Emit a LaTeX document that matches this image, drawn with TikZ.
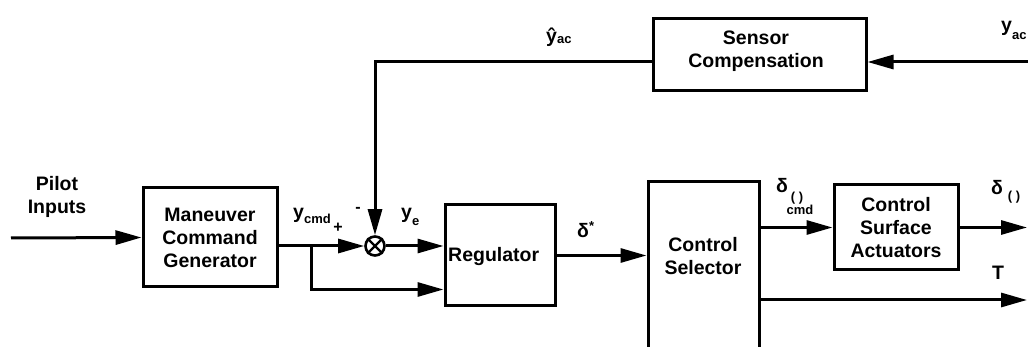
\documentclass[tikz,border=0pt]{standalone}
\usepackage{fontspec}
\setmainfont{Liberation Sans}
\usetikzlibrary{arrows.meta,calc}
\newcommand{\lbsub}[2][-5pt]{\raisebox{#1}{\fontsize{13}{13}\selectfont\bfseries #2}}
\begin{document}
\begin{tikzpicture}[x=1pt,y=-1pt,
  blk/.style={draw, line width=3pt, inner sep=0pt, align=center, font=\fontsize{19.5}{23}\selectfont\bfseries},
  wire/.style={line width=3pt},
  arr/.style={wire, -{Triangle[length=26pt,width=14pt]}},
  lbl/.style={inner sep=0pt, font=\fontsize{19.5}{23}\selectfont\bfseries},
  small/.style={inner sep=0pt, font=\fontsize{13}{13}\selectfont\bfseries}]
\useasboundingbox (0,0) rectangle (1028,347);
\clip (0,0) rectangle (1028,347);
% blocks
\node[blk, minimum width=134pt, minimum height=99pt] (mcg) at (210,237.5) {Maneuver\\Command\\Generator};
\node[blk, minimum width=110pt, minimum height=101pt] (reg) at (500,255.5) {};
\node[lbl, anchor=west] (regt) at (448,257) {Regulator};
\node[blk, minimum width=111pt, minimum height=180pt, anchor=north] (cs) at (703.5,180) {};
\node[lbl, align=center] (cst) at (703,256) {Control\\Selector};
\node[blk, minimum width=124pt, minimum height=85pt] (csa) at (896,227.5) {Control\\Surface\\Actuators};
\node[blk, minimum width=213pt, minimum height=72pt] (sens) at (759.5,55) {};
\node[lbl, align=center] (senst) at (756,51) {Sensor\\Compensation};
% summing junction
\node[circle, draw, line width=2.6pt, minimum size=19pt, inner sep=0pt] (sum) at (375,246) {};
\draw[line width=2.4pt] (sum.45) -- (sum.225) (sum.135) -- (sum.315);
% connectors
\coordinate (pin) at (11,238);
\draw[arr] (pin) -- (mcg.west);
\draw[arr] (mcg.east |- sum) -- (sum.west);
\coordinate (br) at ($(mcg.east |- sum)+(33,0)$);
\coordinate (r2) at ($(reg.south west)+(0,-18)$);
\draw[arr] (br) |- (r2);
\draw[arr] (sum.east) -- (sum.east -| reg.west);
\draw[arr] (reg.east) -- (reg.east -| cs.west);
\draw[arr] (cs.east |- csa.west) -- (csa.west);
\coordinate (dout) at (1027,227.5);
\draw[arr] (csa.east) -- (dout);
\coordinate (tout) at (1027,300);
\draw[arr] (cs.east |- tout) -- (tout);
\coordinate (yin) at (1030,62);
\draw[arr] (yin) -- (sens.east |- yin);
\draw[arr] (sens.west |- yin) -| (sum.north);
% labels
\node[lbl, align=center] (pilot) at (57,197) {Pilot\\Inputs};
\node[lbl, anchor=base west] (ycmd) at (293,219) {y\lbsub{cmd}};
\node[lbl, font=\fontsize{16}{16}\selectfont\bfseries] (plus) at (338,228) {+};
\node[lbl, font=\fontsize{16}{16}\selectfont\bfseries] (minus) at (358,210) {-};
\node[lbl, anchor=base west] (ye) at (401,219) {y\lbsub[-7pt]{e}};
\node[lbl, anchor=base west] (dstar) at (577,238) {δ\raisebox{7pt}{\fontsize{13}{13}\selectfont\bfseries *}};
\node[lbl, anchor=base west] (dcmd) at (776,193) {δ};
\node[small] (dcmdp) at (797,198) {( )};
\node[small] (dcmds) at (800,210) {cmd};
\node[lbl, anchor=base west] (dout) at (991,195) {δ};
\node[small] (doutp) at (1014,197) {( )};
\node[lbl] (tl) at (998,273) {T};
\node[lbl, anchor=base west] (yhat) at (546,43) {ŷ\lbsub[-1pt]{ac}};
\node[lbl, anchor=base west] (yac) at (1001,32) {y\lbsub[-8pt]{ac}};
\end{tikzpicture}
\end{document}
